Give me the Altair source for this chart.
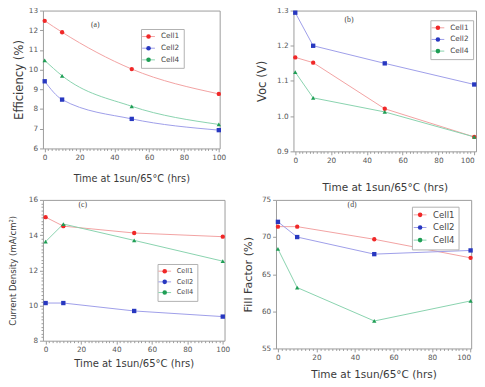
import altair as alt
import pandas as pd

# ---------------- data ----------------
hours = [0, 10, 50, 100]
series = ["Cell1", "Cell2", "Cell4"]

eff_cell1 = [12.48, 11.90, 10.03, 8.77]
eff_cell2 = [9.41, 8.48, 7.50, 6.93]
eff_cell4 = [10.47, 9.69, 8.14, 7.22]

voc_cell1 = [1.167, 1.152, 1.021, 0.941]
voc_cell2 = [1.294, 1.200, 1.150, 1.090]
voc_cell4 = [1.125, 1.052, 1.012, 0.941]

jsc_cell1 = [15.02, 14.51, 14.12, 13.91]
jsc_cell2 = [10.14, 10.14, 9.69, 9.37]
jsc_cell4 = [13.63, 14.63, 13.70, 12.52]

ff_cell1 = [71.4, 71.4, 69.7, 67.2]
ff_cell2 = [72.05, 70.0, 67.7, 68.2]
ff_cell4 = [68.4, 63.2, 58.7, 61.4]

panel_tags = ["(a)", "(b)", "(c)", "(d)"]
x_title = "Time at 1sun/65°C (hrs)"
y_titles = ["Efficiency (%)", "Voc (V)", "Current Density (mA/cm²)", "Fill Factor (%)"]

marker_colors = ["#f02828", "#2838c0", "#1f9e55"]
line_colors = ["#f2a0a0", "#9c9ce8", "#86d2ac"]
shapes = ["circle", "square", "triangle-up"]

FONT = "DejaVu Sans"
FRAME = "#9a9a9a"
TXT = "#3a3a3a"


def frame_df(c1, c2, c4):
    return pd.DataFrame({
        "hours": hours * 3,
        "value": c1 + c2 + c4,
        "series": [series[0]] * 4 + [series[1]] * 4 + [series[2]] * 4,
    })


def frange(a, b, step):
    n = int(round((b - a) / step))
    return [round(a + i * step, 6) for i in range(n + 1)]


def panel(df, tag, tag_pos, xdom, ydom, ymajor, yminor_step, ytitle,
          ytitle_size, xtitle_size, ytitle_pad, xtitle_pad, legend_xy, width, height,
          interp="linear", flush_last=False, legend_font=7.5):
    x_vals = frange(0, 100, 2)
    x_align = ({"condition": {"test": "datum.value === 100", "value": "right"}, "value": "center"}
               if flush_last else "center")
    x_axis = alt.Axis(
        values=x_vals,
        labelExpr="datum.value % 20 === 0 ? datum.label : ''",
        labelAlign=x_align,
        tickSize={"condition": {"test": "datum.value % 20 === 0", "value": 3.5}, "value": 2},
        title=x_title, titleFontSize=xtitle_size, titleFontWeight="normal",
        titleColor=TXT, titleFont=FONT, titlePadding=xtitle_pad,
        labelFontSize=7.5, labelColor="#555", labelFont=FONT, labelPadding=2,
        labelFlush=False, domain=False, tickColor=FRAME, grid=False,
    )
    lo, hi, st = ymajor
    if yminor_step:
        y_vals = frange(lo, hi, yminor_step)
        test = f"abs(datum.value / {st} - round(datum.value / {st})) < 1e-6"
        y_tick = {"condition": {"test": test, "value": 3.5}, "value": 2}
        y_label = f"{test} ? '' + round(datum.value) : ''"
    else:
        y_vals = frange(lo, hi, st)
        y_tick = 3.5
        y_label = "datum.label"
    y_axis = alt.Axis(
        values=y_vals, labelExpr=y_label, tickSize=y_tick,
        title=ytitle, titleFontSize=ytitle_size, titleFontWeight="normal",
        titleColor=TXT, titleFont=FONT, titlePadding=ytitle_pad,
        labelFontSize=7.5, labelColor="#555", labelFont=FONT, labelPadding=2,
        domain=False, tickColor=FRAME, grid=False,
    )
    X = alt.X("hours:Q", scale=alt.Scale(domain=xdom, nice=False, zero=False), axis=x_axis)
    Y = alt.Y("value:Q", scale=alt.Scale(domain=ydom, nice=False, zero=False), axis=y_axis)

    lx, ly = legend_xy
    common = dict(
        title=None, orient="none", legendX=lx, legendY=ly,
        symbolSize=22, labelFontSize=legend_font, labelFont=FONT,
        rowPadding=3, padding=4, labelOffset=9,
    )
    line_legend = alt.Legend(
        symbolType="M-2.8,0H2.8", symbolStrokeWidth=1,
        labelColor="#444", fillColor="white", strokeColor="#b0b0b0",
        **common,
    )
    pt_legend = alt.Legend(
        symbolStrokeWidth=0, labelOpacity=0,
        **common,
    )

    lines = alt.Chart(df).mark_line(strokeWidth=1, interpolate=interp).encode(
        x=X, y=Y,
        color=alt.Color("series:N", scale=alt.Scale(domain=series, range=line_colors),
                        legend=line_legend),
        detail="series:N",
    )
    points = alt.Chart(df).mark_point(filled=True, opacity=1, size=20).encode(
        x=X, y=Y,
        color=alt.Color("series:N", scale=alt.Scale(domain=series, range=marker_colors),
                        legend=pt_legend),
        shape=alt.Shape("series:N", scale=alt.Scale(domain=series, range=shapes),
                        legend=pt_legend),
    )
    tag_df = pd.DataFrame({"hours": [tag_pos[0]], "value": [tag_pos[1]], "txt": [tag]})
    tag_layer = alt.Chart(tag_df).mark_text(
        font="Liberation Serif", fontSize=8, color="#444"
    ).encode(x=X, y=Y, text="txt:N")

    return alt.layer(lines, points, tag_layer).resolve_scale(
        color="independent"
    ).properties(width=width, height=height)


pa = panel(frame_df(eff_cell1, eff_cell2, eff_cell4), panel_tags[0], (29, 12.25),
           [-1, 100.5], [6, 13], (6, 13, 1), None, y_titles[0],
           12, 10, 3, 13, (101, 19), 182, 142, interp="monotone")
pb = panel(frame_df(voc_cell1, voc_cell2, voc_cell4), panel_tags[1], (30, 1.273),
           [-1, 101], [0.9, 1.3], (0.9, 1.3, 0.1), None, y_titles[1],
           12, 10.8, 8, 18, (141, 10), 188, 145, flush_last=True)
pc = panel(frame_df(jsc_cell1, jsc_cell2, jsc_cell4), panel_tags[2], (21, 15.68),
           [-1.5, 101], [8, 16], (8, 16, 2), 0.2, y_titles[2],
           8.8, 10.3, 11, 6, (118, 66), 187, 145, legend_font=6.8)
pd_ = panel(frame_df(ff_cell1, ff_cell2, ff_cell4), panel_tags[3], (38.5, 74.36),
            [-1, 100.3], [55, 75], (55, 75, 5), None, y_titles[3],
            11.5, 10.8, 8, 8, (140, 7), 201, 153, flush_last=True, legend_font=8.8)

top = alt.hconcat(pa, pb, spacing=30).resolve_scale(color="independent", shape="independent")
bottom = alt.hconcat(pc, pd_, spacing=12).resolve_scale(color="independent", shape="independent")

chart = alt.vconcat(top, bottom, spacing=2).resolve_scale(
    color="independent", shape="independent"
).properties(
    padding={"left": 0, "top": -8, "right": 0, "bottom": 0},
    background="white",
).configure(
    font=FONT
).configure_view(
    stroke=FRAME, strokeWidth=1
)

chart.save("out.html", embed_options={"renderer": "svg", "actions": False})
